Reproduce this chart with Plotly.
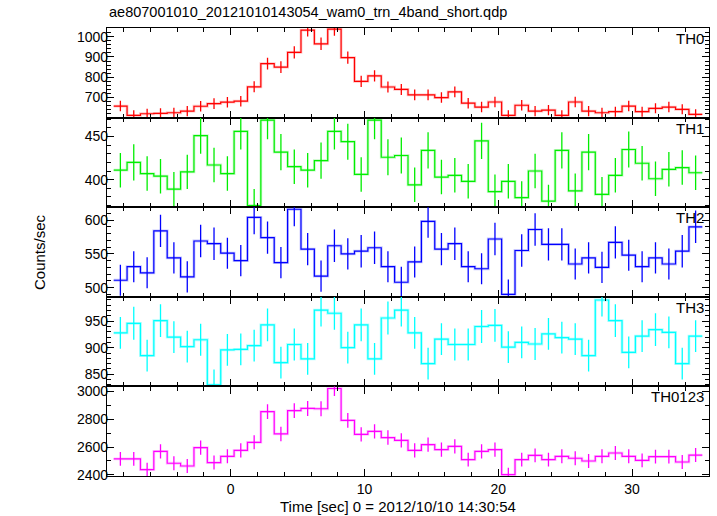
import plotly.graph_objects as go
from plotly.subplots import make_subplots

# ---- data ----
time = [-8.25, -7.25, -6.25, -5.25, -4.25, -3.25, -2.25, -1.25, -0.25, 0.75,
        1.75, 2.75, 3.75, 4.75, 5.75, 6.75, 7.75, 8.75, 9.75, 10.75,
        11.75, 12.75, 13.75, 14.75, 15.75, 16.75, 17.75, 18.75, 19.75, 20.75,
        21.75, 22.75, 23.75, 24.75, 25.75, 26.75, 27.75, 28.75, 29.75, 30.75,
        31.75, 32.75, 33.75, 34.75]

th0 = [658, 612, 620, 622, 625, 633, 657, 670, 677, 682, 753, 867, 850, 923, 1033,
       965, 1037, 897, 780, 807, 752, 740, 713, 713, 700, 728, 672, 653, 678, 612,
       662, 633, 638, 612, 678, 633, 625, 630, 658, 630, 647, 653, 642, 617]
th0_err = [26, 25, 25, 25, 25, 25, 26, 26, 26, 26, 27, 29, 29, 30, 32, 31, 32, 30,
           28, 28, 27, 27, 27, 27, 26, 27, 26, 26, 26, 25, 26, 25, 25, 25, 26, 25,
           25, 25, 26, 25, 25, 26, 25, 25]

th1 = [411, 420, 407, 404, 389, 409, 451, 417, 407, 456, 370, 469, 432, 415, 411,
       422, 456, 444, 406, 469, 426, 428, 394, 434, 403, 405, 398, 445, 386, 398,
       379, 410, 375, 434, 387, 432, 383, 405, 435, 419, 401, 412, 414, 408]
th1_err = [20, 21, 20, 20, 20, 20, 21, 20, 20, 21, 19, 22, 21, 20, 20, 21, 21, 21,
           20, 22, 21, 21, 20, 21, 20, 20, 20, 21, 20, 20, 19, 20, 19, 21, 20, 21,
           20, 20, 21, 20, 20, 20, 20, 20]

th2 = [511, 531, 522, 584, 544, 516, 569, 565, 551, 540, 604, 574, 537, 616, 557,
       517, 562, 550, 554, 559, 531, 508, 538, 598, 557, 565, 531, 528, 572, 490,
       555, 586, 564, 564, 535, 544, 530, 567, 548, 531, 544, 535, 554, 590]
th2_err = [23, 23, 23, 24, 23, 23, 24, 24, 23, 23, 25, 24, 23, 25, 24, 23, 24, 23,
           24, 24, 23, 23, 23, 24, 24, 24, 23, 23, 24, 22, 24, 24, 24, 24, 23, 23,
           23, 24, 23, 23, 23, 23, 24, 24]

th3 = [928, 946, 885, 951, 920, 902, 915, 830, 896, 897, 904, 943, 872, 906, 879,
       971, 965, 900, 943, 879, 956, 971, 928, 870, 916, 906, 906, 940, 942, 901,
       910, 907, 926, 919, 916, 885, 990, 951, 891, 922, 934, 929, 870, 922]
th3_err = [30, 31, 30, 31, 30, 30, 30, 29, 30, 30, 30, 31, 30, 30, 30, 31, 31, 30,
           31, 30, 31, 31, 30, 30, 30, 30, 30, 31, 31, 30, 30, 30, 30, 30, 30, 30,
           31, 31, 30, 30, 31, 30, 30, 30]

th0123 = [2514, 2514, 2437, 2569, 2483, 2463, 2596, 2488, 2533, 2576, 2634, 2855,
          2694, 2862, 2878, 2876, 3022, 2792, 2691, 2713, 2668, 2648, 2576, 2617,
          2581, 2605, 2509, 2569, 2581, 2401, 2509, 2540, 2509, 2533, 2519, 2499,
          2533, 2557, 2533, 2504, 2531, 2531, 2492, 2542]
th0123_err = [50, 50, 49, 51, 50, 50, 51, 50, 50, 51, 51, 53, 52, 53, 54, 54, 55,
              53, 52, 52, 52, 51, 51, 51, 51, 51, 50, 51, 51, 49, 50, 50, 50, 50,
              50, 50, 50, 51, 50, 50, 50, 50, 50, 50]

labels = ["TH0", "TH1", "TH2", "TH3", "TH0123"]
series = [th0, th1, th2, th3, th0123]
errors = [th0_err, th1_err, th2_err, th3_err, th0123_err]
colors = ["#ff0000", "#00ee00", "#0000ff", "#00ffff", "#ff00ff"]
halos = ["rgba(255,0,0,0.22)", "rgba(0,230,0,0.22)", "rgba(0,0,255,0.22)",
         "rgba(0,255,255,0.3)", "rgba(255,0,255,0.22)"]
yranges = [[601, 1043], [368, 472], [486.5, 619], [827, 996], [2391, 3037]]
ydticks = [100, 50, 50, 50, 200]
yminor = [20, 10, 10, 10, 100]

title = "ae807001010_20121010143054_wam0_trn_4band_short.qdp"
xlabel = "Time [sec] 0 = 2012/10/10 14:30:54"
ylabel = "Counts/sec"

FONT = "Liberation Sans, Arial, Helvetica, sans-serif"

fig = make_subplots(rows=5, cols=1, shared_xaxes=True, vertical_spacing=0)

half = (time[1] - time[0]) / 2
edges = [t - half for t in time] + [time[-1] + half]

for i, (vals, errs) in enumerate(zip(series, errors)):
    r = i + 1
    yy = vals + [vals[-1]]
    fig.add_trace(go.Scatter(x=edges, y=yy, mode="lines", line_shape="hv",
                             line=dict(color=halos[i], width=2.8),
                             hoverinfo="skip", showlegend=False), row=r, col=1)
    fig.add_trace(go.Scatter(x=edges, y=yy, mode="lines", line_shape="hv",
                             line=dict(color=colors[i], width=1.2),
                             showlegend=False), row=r, col=1)
    fig.add_trace(go.Scatter(x=time, y=vals, mode="markers",
                             marker=dict(size=2, color=colors[i], opacity=0),
                             error_y=dict(type="data", array=errs, visible=True,
                                          color=colors[i], thickness=1.3, width=0),
                             showlegend=False), row=r, col=1)
    fig.update_yaxes(range=yranges[i], dtick=ydticks[i], tick0=0,
                     ticks="inside", ticklen=7, tickwidth=1, tickcolor="black",
                     minor=dict(dtick=yminor[i], ticks="inside", ticklen=4,
                                tickcolor="black", tickwidth=1),
                     showline=True, linecolor="black", linewidth=1.2,
                     mirror="allticks", showgrid=False, zeroline=False,
                     ticklabelstandoff=-5,
                     tickfont=dict(family=FONT, size=14, color="black"),
                     row=r, col=1)
    fig.update_xaxes(range=[-9.25, 35.75], dtick=10, tick0=0,
                     ticks="inside", ticklen=7, tickwidth=1, tickcolor="black",
                     minor=dict(dtick=2, ticks="inside", ticklen=4,
                                tickcolor="black", tickwidth=1),
                     showline=True, linecolor="black", linewidth=1.2,
                     mirror="allticks", showgrid=False, zeroline=False,
                     tickfont=dict(family=FONT, size=14, color="black"),
                     row=r, col=1)
    # panel label
    dom_top = 1 - i * 0.2
    fig.add_annotation(text=labels[i], xref="paper", yref="paper", x=1, y=dom_top,
                       xanchor="right", yanchor="top", xshift=-3, yshift=0,
                       showarrow=False,
                       font=dict(family=FONT, size=15, color="black"))

fig.add_annotation(text=title, xref="paper", yref="paper", x=0, y=1 + 16 / 448,
                   xanchor="left", yanchor="middle", showarrow=False,
                   font=dict(family=FONT, size=14.5, color="black"))
fig.add_annotation(text=xlabel, xref="paper", yref="paper", x=0.4826,
                   y=-30 / 448, xanchor="center", yanchor="middle",
                   showarrow=False,
                   font=dict(family=FONT, size=15, color="black"))
fig.add_annotation(text=ylabel, xref="paper", yref="paper", x=-68 / 602, y=0.5,
                   xanchor="center", yanchor="middle", textangle=-90,
                   showarrow=False,
                   font=dict(family=FONT, size=15, color="black"))

fig.update_layout(width=717, height=516,
                  margin=dict(l=107, r=8, t=28, b=40),
                  plot_bgcolor="white", paper_bgcolor="white",
                  showlegend=False)

fig.write_html("out.html", config={"displayModeBar": False},
               post_script="document.body.style.margin='0';document.body.style.padding='0';")
